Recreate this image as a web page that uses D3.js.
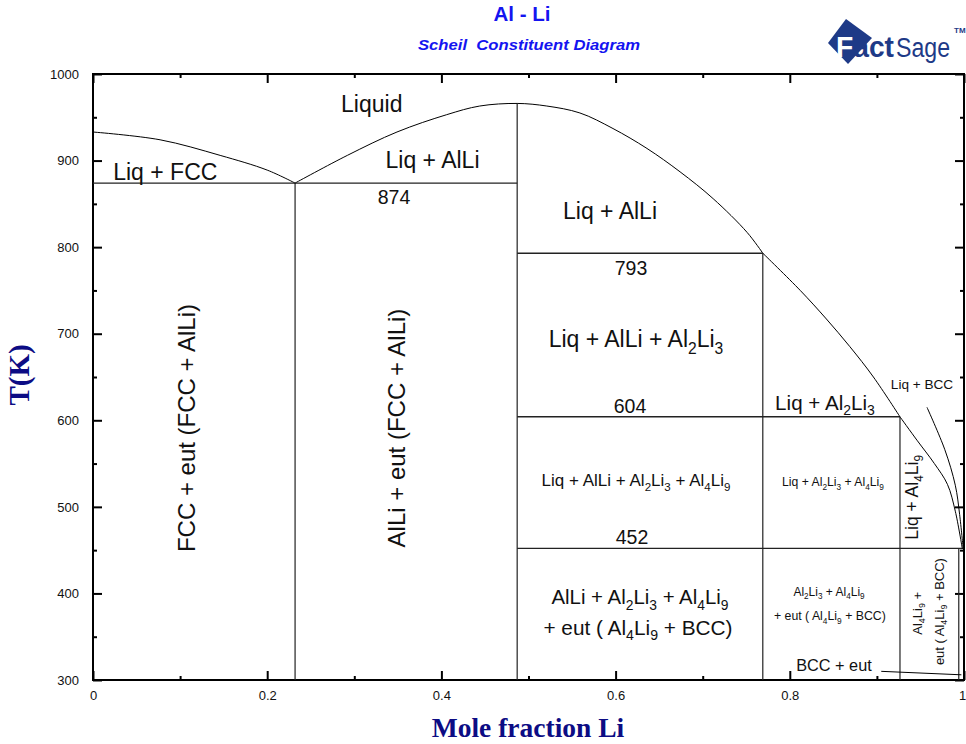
<!DOCTYPE html>
<html lang="en">
<head>
  <meta charset="UTF-8">
  <title>Al - Li Scheil Constituent Diagram</title>
  <script src="https://d3js.org/d3.v7.min.js"></script>
  <style>
    body { margin: 0; background: #fff; }
    svg { display: block; font-family: "Liberation Sans", Arial, sans-serif; }
    .tick text { font-size: 13px; fill: #111; }
  </style>
</head>
<body>
  <div id="chart"></div>
  <script>
    // tick values
    const xMajor = [0, 0.2, 0.4, 0.6, 0.8, 1];
    const xMinor = [0.1, 0.3, 0.5, 0.7, 0.9];
    const tMajor = [300, 400, 500, 600, 700, 800, 900, 1000];
    const tMinor = [350, 450, 550, 650, 750, 850, 950];

    // liquidus (mole fraction Li, T in K)
    const liquidus = [
      [0, 933], [0.077, 924], [0.146, 906], [0.2, 889], [0.232, 874],
      [0.292, 906], [0.349, 933], [0.406, 953], [0.444, 963], [0.487, 966],
      [0.521, 963], [0.559, 955], [0.597, 937], [0.636, 914], [0.674, 887],
      [0.712, 856], [0.751, 817], [0.769, 793], [0.812, 750], [0.842, 717],
      [0.869, 685], [0.896, 650], [0.9265, 604], [0.946, 577], [0.966, 550],
      [0.981, 526], [0.990, 495], [0.998, 452]
    ];
    // points where the liquidus has a corner
    const kinks = [0.232, 0.769, 0.9265];
    // liq + bcc boundary
    const bccLine = [[0.9575, 615], [0.978, 566], [0.990, 525], [0.995, 491], [0.999, 452]];
    // bcc + eut boundary near the bottom
    const bccEut = [[0.905, 310], [0.997, 306]];

    // invariant temperatures and phase boundaries
    const isotherms = [
      { T: 874, x0: 0, x1: 0.487 },
      { T: 793, x0: 0.487, x1: 0.769 },
      { T: 604, x0: 0.487, x1: 0.9265 },
      { T: 452, x0: 0.487, x1: 0.999 }
    ];
    const verticals = [
      { x: 0.232, T0: 300, T1: 874 },
      { x: 0.487, T0: 300, T1: 966 },
      { x: 0.769, T0: 300, T1: 793 },
      { x: 0.9265, T0: 300, T1: 604 },
      { x: 0.994, T0: 300, T1: 452 }
    ];

    // region labels (_n = subscript)
    const labels = [
      { text: "Liquid", x: 0.320, T: 966, size: 23 },
      { text: "Liq + FCC", x: 0.083, T: 887, size: 23 },
      { text: "Liq + AlLi", x: 0.3898, T: 901, size: 23 },
      { text: "874", x: 0.3456, T: 858, size: 19.5 },
      { text: "Liq + AlLi", x: 0.5936, T: 842, size: 23 },
      { text: "793", x: 0.6177, T: 776, size: 19.5 },
      { text: "Liq + AlLi + Al_2Li_3", x: 0.6234, T: 694, size: 23 },
      { text: "604", x: 0.6165, T: 616, size: 19.5 },
      { text: "Liq + Al_2Li_3", x: 0.8404, T: 621, size: 20.6 },
      { text: "Liq + BCC", x: 0.9518, T: 642, size: 13.6 },
      { text: "Liq + AlLi + Al_2Li_3 + Al_4Li_9", x: 0.6234, T: 531, size: 17 },
      { text: "Liq + Al_2Li_3 + Al_4Li_9", x: 0.8496, T: 529, size: 12.2 },
      { text: "Liq + Al_4Li_9", x: 0.9403, T: 511, size: 17.5, rotate: true },
      { text: "452", x: 0.6188, T: 465, size: 19.5 },
      { text: "AlLi + Al_2Li_3 + Al_4Li_9", x: 0.628, T: 396, size: 20.4 },
      { text: "+ eut ( Al_4Li_9 + BCC)", x: 0.6257, T: 361, size: 20.8 },
      { text: "Al_2Li_3 + Al_4Li_9", x: 0.845, T: 402, size: 12 },
      { text: "+ eut ( Al_4Li_9 + BCC)", x: 0.846, T: 374, size: 12.3 },
      { text: "Al_4Li_9 +", x: 0.946, T: 377, size: 13, rotate: true },
      { text: "eut ( Al_4Li_9 + BCC)", x: 0.9713, T: 379, size: 13, rotate: true },
      { text: "BCC + eut", x: 0.8507, T: 317, size: 16.3 },
      { text: "FCC + eut (FCC + AlLi)", x: 0.1068, T: 591, size: 24, rotate: true },
      { text: "AlLi + eut (FCC + AlLi)", x: 0.348, T: 591, size: 24, rotate: true }
    ];

    const W = 966, H = 744;
    const margin = { top: 74, right: 2, bottom: 64, left: 93 };
    const width = W - margin.left - margin.right,
          height = H - margin.top - margin.bottom;

    const root = d3.select("#chart").append("svg")
      .attr("width", W)
      .attr("height", H);

    const svg = root.append("g")
      .attr("transform", `translate(${margin.left},${margin.top})`);

    const x = d3.scaleLinear().domain([0, 1]).range([0, width]);
    const y = d3.scaleLinear().domain([300, 1000]).range([height, 0]);

    // axes, ticks pointing inward
    function axis(gen, vals, size, labelled) {
      return gen.tickValues(vals).tickSizeInner(-size).tickSizeOuter(0)
        .tickFormat(labelled ? d => d : "");
    }
    const axes = [
      [svg.append("g").attr("transform", `translate(0,${height})`),
        d3.axisBottom(x), d3.axisBottom(x), 11],
      [svg.append("g"), d3.axisTop(x), d3.axisTop(x), 0],
      [svg.append("g"), d3.axisLeft(y), d3.axisLeft(y), 14],
      [svg.append("g").attr("transform", `translate(${width},0)`),
        d3.axisRight(y), d3.axisRight(y), 0]
    ];
    axes.forEach(([g, maj, min, pad], i) => {
      const isX = i < 2;
      const labelled = i === 0 || i === 2;
      g.call(axis(maj, isX ? xMajor : tMajor, 9, labelled).tickPadding(pad));
      g.append("g").call(axis(min, isX ? xMinor : tMinor, 4, false));
      g.selectAll(".domain").remove();
      g.selectAll("line").attr("stroke", "#000").attr("stroke-width", 2);
    });
    // last x label sits on the page edge
    svg.selectAll(".tick text").filter(d => d === 1).attr("dx", "-2");

    svg.append("rect")
      .attr("width", width).attr("height", height)
      .attr("fill", "none").attr("stroke", "#000").attr("stroke-width", 2);

    // phase boundaries
    svg.selectAll("line.iso")
      .data(isotherms).enter().append("line")
      .attr("class", "iso")
      .attr("x1", d => x(d.x0)).attr("x2", d => x(d.x1))
      .attr("y1", d => y(d.T)).attr("y2", d => y(d.T))
      .attr("stroke", "#222").attr("stroke-width", 1.4);

    svg.selectAll("line.vert")
      .data(verticals).enter().append("line")
      .attr("class", "vert")
      .attr("x1", d => x(d.x)).attr("x2", d => x(d.x))
      .attr("y1", d => y(d.T0)).attr("y2", d => y(d.T1))
      .attr("stroke", "#222").attr("stroke-width", 1.2);

    const line = d3.line()
      .x(d => x(d[0])).y(d => y(d[1]))
      .curve(d3.curveCatmullRom.alpha(0.5));

    // split liquidus at its corners so each piece is smooth
    const pieces = [];
    let cur = [];
    liquidus.forEach(p => {
      cur.push(p);
      if (kinks.includes(p[0])) { pieces.push(cur); cur = [p]; }
    });
    pieces.push(cur);

    [...pieces, bccLine, bccEut].forEach(pts => {
      svg.append("path")
        .attr("d", line(pts))
        .attr("fill", "none").attr("stroke", "#000").attr("stroke-width", 1);
    });

    // labels with subscripts
    function richText(t, str, size) {
      const parts = str.split(/_(\d)/);
      let shifted = false;
      parts.forEach((p, i) => {
        if (!p) return;
        const sub = i % 2 === 1;
        const ts = t.append("tspan").text(p)
          .attr("font-size", sub ? size * 0.68 : size);
        if (sub && !shifted) { ts.attr("dy", size * 0.28); shifted = true; }
        else if (!sub && shifted) { ts.attr("dy", -size * 0.28); shifted = false; }
      });
    }

    labels.forEach(d => {
      const t = svg.append("text")
        .attr("text-anchor", "middle")
        .attr("fill", "#111")
        .attr("font-size", d.size)
        .attr("transform", `translate(${x(d.x)},${y(d.T)})` + (d.rotate ? " rotate(-90)" : ""))
        .attr("y", d.size * 0.36);
      richText(t, d.text, d.size);
    });

    // titles
    root.append("text")
      .attr("x", 522).attr("y", 21)
      .attr("text-anchor", "middle")
      .attr("font-size", 20.5).attr("font-weight", "bold")
      .attr("fill", "#1414f0")
      .text("Al - Li");

    root.append("text")
      .attr("x", 529).attr("y", 50)
      .attr("text-anchor", "middle")
      .attr("font-size", 15.5).attr("font-weight", "bold").attr("font-style", "italic")
      .attr("fill", "#1414f0")
      .attr("textLength", 222).attr("lengthAdjust", "spacingAndGlyphs")
      .style("white-space", "pre")
      .text("Scheil  Constituent Diagram");

    root.append("text")
      .attr("x", 528).attr("y", 737)
      .attr("text-anchor", "middle")
      .attr("font-family", "'Liberation Serif', 'Times New Roman', serif")
      .attr("font-size", 27.5).attr("font-weight", "bold")
      .attr("fill", "#0c0c84")
      .text("Mole fraction Li");

    root.append("text")
      .attr("transform", "translate(29,375) rotate(-90)")
      .attr("text-anchor", "middle")
      .attr("font-family", "'Liberation Serif', 'Times New Roman', serif")
      .attr("font-size", 29).attr("font-weight", "bold")
      .attr("fill", "#0c0c84")
      .text("T(K)");

    // FactSage logo
    const logo = root.append("g");
    logo.append("path")
      .attr("d", "M846,19 L872,38 L848,64 L828,43 Z")
      .attr("fill", "#1e3a87");
    logo.append("text")
      .attr("x", 836).attr("y", 57)
      .attr("font-family", "'Liberation Sans Narrow', 'Liberation Sans', sans-serif")
      .attr("font-size", 29).attr("font-weight", "bold")
      .attr("fill", "#1e3a87")
      .attr("textLength", 58).attr("lengthAdjust", "spacingAndGlyphs")
      .html('<tspan fill="#fff">F</tspan>act');
    logo.append("text")
      .attr("x", 896).attr("y", 57)
      .attr("font-family", "'Liberation Sans Narrow', 'Liberation Sans', sans-serif")
      .attr("font-size", 27)
      .attr("fill", "#1e3a87")
      .attr("textLength", 54).attr("lengthAdjust", "spacingAndGlyphs")
      .text("Sage");
    logo.append("text")
      .attr("x", 954).attr("y", 33)
      .attr("font-size", 8).attr("font-weight", "bold")
      .attr("fill", "#1e3a87")
      .text("TM");
  </script>
</body>
</html>
